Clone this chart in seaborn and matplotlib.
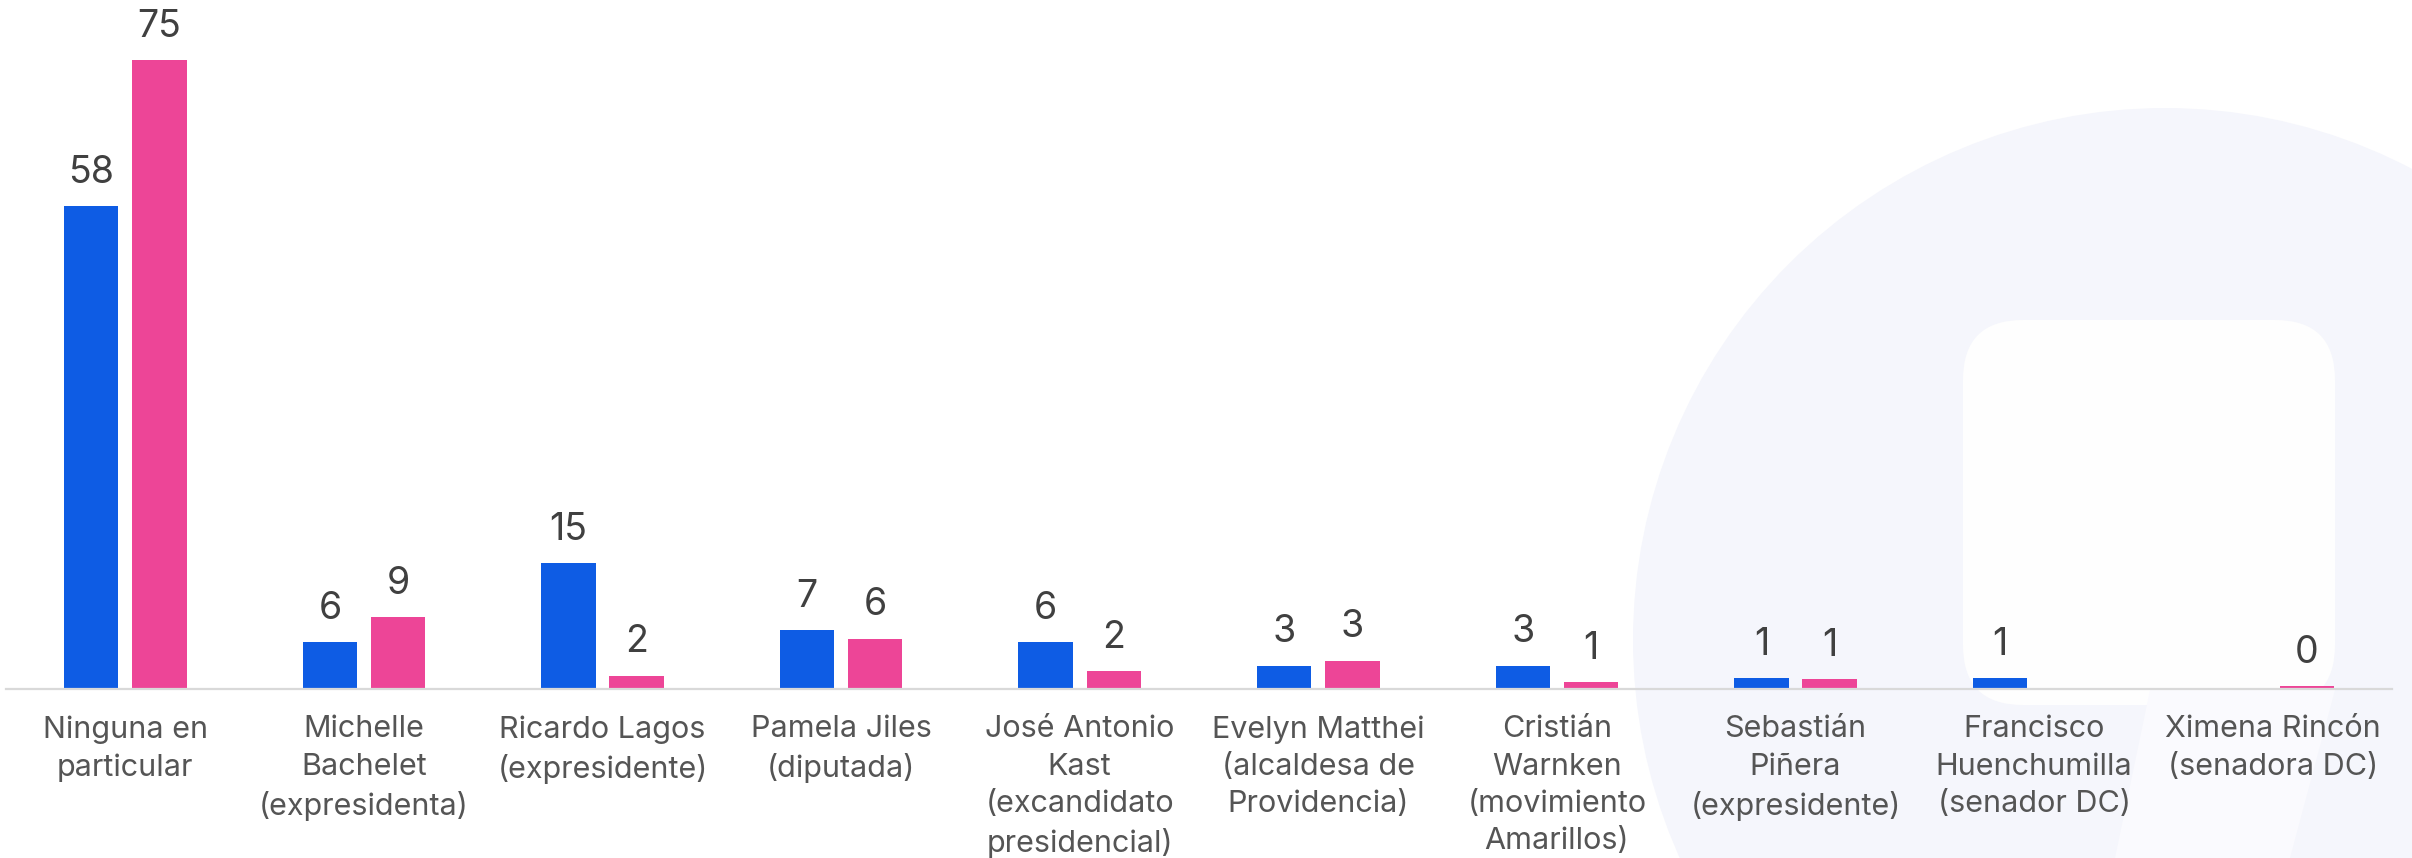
import numpy as np
import pandas as pd
import matplotlib
matplotlib.use("Agg")
import matplotlib.pyplot as plt
import seaborn as sns
from matplotlib.patches import Circle, FancyBboxPatch, Polygon

# categories (as shown on the x axis, with line breaks)
categories = [
    "Ninguna en\nparticular",
    "Michelle\nBachelet\n(expresidenta)",
    "Ricardo Lagos\n(expresidente)",
    "Pamela Jiles\n(diputada)",
    "José Antonio\nKast\n(excandidato\npresidencial)",
    "Evelyn Matthei\n(alcaldesa de\nProvidencia)",
    "Cristián\nWarnken\n(movimiento\nAmarillos)",
    "Sebastián\nPiñera\n(expresidente)",
    "Francisco\nHuenchumilla\n(senador DC)",
    "Ximena Rincón\n(senadora DC)",
]
series_names = ["Serie 1", "Serie 2"]
# values (labels show them rounded)
blue_values = [57.6, 5.6, 15.0, 7.0, 5.6, 2.8, 2.8, 1.3, 1.3, np.nan]
pink_values = [75.0, 8.6, 1.6, 6.0, 2.1, 3.4, 0.8, 1.2, np.nan, 0.3]
colors = ["#0e5ce4", "#ed4597"]

df = pd.DataFrame({
    "categoria": categories * 2,
    "serie": [series_names[0]] * len(categories) + [series_names[1]] * len(categories),
    "valor": blue_values + pink_values,
})

W, H = 2412, 858
fig = plt.figure(figsize=(W / 100, H / 100), dpi=100)
plt.rcParams["font.family"] = ["Inter", "DejaVu Sans"]

# faint watermark in the background
bg = fig.add_axes([0, 0, 1, 1], zorder=-1)
bg.set_xlim(0, W)
bg.set_ylim(H, 0)
bg.axis("off")
bg.add_patch(Circle((2165, 640), 532, color="#f5f6fc", lw=0))
bg.add_patch(FancyBboxPatch((1963, 320), 372, 385, boxstyle="round,pad=0,rounding_size=60",
                            color="#fefefe", lw=0))
bg.add_patch(Polygon([(2150, 690), (2335, 690), (2290, 858), (2115, 858)], color="#fafafe", lw=0))

ax = fig.add_axes([6 / W, 169 / H, 2386 / W, 689 / H])
ax.patch.set_alpha(0)
sns.barplot(data=df, x="categoria", y="valor", hue="serie", order=categories,
            hue_order=series_names, palette=colors, width=0.57, gap=0.2,
            linewidth=0, saturation=1, legend=False, ax=ax)

for cont in ax.containers:
    ax.bar_label(cont, fmt="%.0f", padding=11, fontsize=27, color="#404040")

ax.set_ylim(0, 82.2)
ax.set_xlim(-0.5, len(categories) - 0.5)
ax.set_xlabel("")
ax.set_ylabel("")
ax.set_yticks([])
for s in ["top", "right", "left"]:
    ax.spines[s].set_visible(False)
ax.spines["bottom"].set_color("#d9d9d9")
ax.spines["bottom"].set_linewidth(1.6)
ax.tick_params(axis="x", length=0, pad=19, labelsize=22, labelcolor="#555555")
for lbl in ax.get_xticklabels():
    lbl.set_linespacing(1.42)

fig.savefig("out.png", dpi=100)
